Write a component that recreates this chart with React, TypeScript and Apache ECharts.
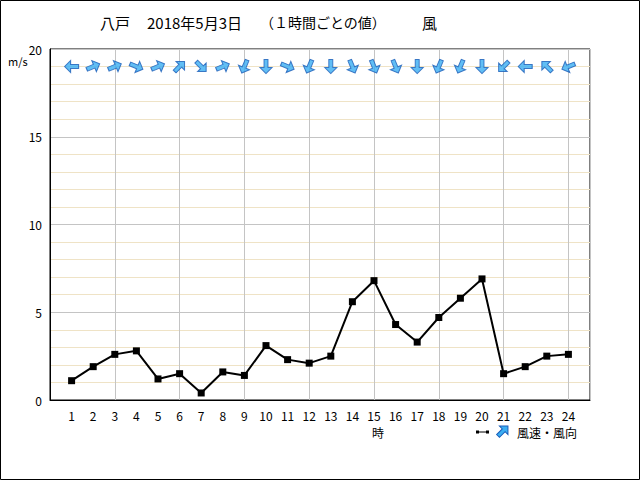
import React, { useEffect, useRef } from "react";
import * as echarts from "echarts";

const hours = [1, 2, 3, 4, 5, 6, 7, 8, 9, 10, 11, 12, 13, 14, 15, 16, 17, 18, 19, 20, 21, 22, 23, 24];
const windSpeed = [1.1, 1.9, 2.6, 2.8, 1.2, 1.5, 0.4, 1.6, 1.4, 3.1, 2.3, 2.1, 2.5, 5.6, 6.8, 4.3, 3.3, 4.7, 5.8, 6.9, 1.5, 1.9, 2.5, 2.6];
// wind direction (where the wind blows from), 16-point compass
const windFrom = [
  "東", "西南西", "西南西", "西北西", "西南西", "南西", "北西", "西南西",
  "北北東", "北", "西北西", "北北東", "北", "北北西", "北北西", "北北西",
  "北", "北北東", "北北東", "北", "北東", "東", "南東", "東北東",
];
const compass16 = ["北", "北北東", "北東", "東北東", "東", "東南東", "南東", "南南東", "南", "南南西", "南西", "西南西", "西", "西北西", "北西", "北北西"];
const yTicks = [0, 5, 10, 15, 20];
const titleParts = ["八戸", "2018年5月3日", "（１時間ごとの値）", "風"];

const FONT = "'Noto Sans CJK JP', 'DejaVu Sans', sans-serif";
const ARROW_FILL = "#3aaef2";
const ARROW_STROKE = "#1a5cb8";

export default function App() {
  const ref = useRef<HTMLDivElement>(null);
  useEffect(() => {
    document.body.style.margin = "0";
    if (!ref.current) return;
    const chart = echarts.init(ref.current, null, { renderer: "svg" });
    const arrowData = hours.map((h, i) => {
      const fromDeg = compass16.indexOf(windFrom[i]) * 22.5;
      const toDeg = (fromDeg + 180) % 360;
      return { value: [h, 19], symbolRotate: -toDeg };
    });
    chart.setOption({
      animation: false,
      backgroundColor: "#fff",
      textStyle: { fontFamily: FONT },
      grid: { left: 50, right: 50, top: 49, bottom: 80, show: true, borderColor: "#000", borderWidth: 1, backgroundColor: "transparent" },
      xAxis: [
        {
          type: "value", min: 0, max: 25, interval: 1, position: "bottom",
          axisLine: { show: true, lineStyle: { color: "#000" } },
          axisTick: { show: false },
          splitLine: { show: false },
          axisLabel: {
            color: "#000", fontSize: 12, margin: 9, fontFamily: FONT,
            formatter: (v: number) => (hours.includes(v) ? String(v) : ""),
          },
        },
        {
          type: "value", min: 0, max: 25, interval: 3, position: "bottom",
          axisLine: { show: false }, axisTick: { show: false }, axisLabel: { show: false },
          splitLine: { show: true, lineStyle: { color: "#c4c4c4", width: 1 } },
        },
      ],
      yAxis: {
        type: "value", min: 0, max: 20, interval: 5,
        axisLine: { show: true, lineStyle: { color: "#000" } },
        axisTick: { show: false },
        axisLabel: {
          color: "#000", fontSize: 12, margin: 8, fontFamily: FONT,
          formatter: (v: number) => (yTicks.includes(v) ? String(v) : ""),
        },
        splitLine: { show: true, lineStyle: { color: "#c4c4c4", width: 1 } },
        minorTick: { show: false, splitNumber: 5 },
        minorSplitLine: { show: true, lineStyle: { color: "#efe3c6", width: 1 } },
      },
      series: [
        {
          type: "line",
          xAxisIndex: 0,
          data: hours.map((h, i) => [h, windSpeed[i]]),
          symbol: "rect",
          symbolSize: 7,
          itemStyle: { color: "#000" },
          lineStyle: { color: "#000", width: 2 },
          z: 3,
        },
        {
          type: "scatter",
          xAxisIndex: 0,
          data: arrowData,
          symbol: "path://M6,0 L12,6 L8,6 L8,14 L4,14 L4,6 L0,6 Z",
          symbolSize: [12, 14],
          itemStyle: { color: ARROW_FILL, borderColor: ARROW_STROKE, borderWidth: 1 },
          z: 4,
        },
      ],
      graphic: [
        { type: "rect", shape: { x: 0.5, y: 0.5, width: 639, height: 479 }, style: { fill: "none", stroke: "#000", lineWidth: 1 }, silent: true },
        { type: "text", x: 100, y: 22, style: { text: titleParts[0], font: `15px ${FONT}`, fill: "#000", verticalAlign: "middle" } },
        { type: "text", x: 147, y: 22, style: { text: titleParts[1], font: `15px ${FONT}`, fill: "#000", verticalAlign: "middle" } },
        { type: "text", x: 260, y: 22, style: { text: titleParts[2], font: `14px ${FONT}`, fill: "#000", verticalAlign: "middle" } },
        { type: "text", x: 422, y: 22, style: { text: titleParts[3], font: `15px ${FONT}`, fill: "#000", verticalAlign: "middle" } },
        { type: "text", x: 8, y: 61, style: { text: "m/s", font: `11px ${FONT}`, fill: "#000", verticalAlign: "middle" } },
        { type: "text", x: 372, y: 432, style: { text: "時", font: `12px ${FONT}`, fill: "#000", verticalAlign: "middle" } },
        { type: "line", shape: { x1: 477, y1: 432, x2: 488, y2: 432 }, style: { stroke: "#000", lineWidth: 1 } },
        { type: "rect", shape: { x: 476, y: 430.5, width: 3, height: 3 }, style: { fill: "#000" } },
        { type: "rect", shape: { x: 486, y: 430.5, width: 3, height: 3 }, style: { fill: "#000" } },
        {
          type: "polygon", x: 503, y: 431, rotation: -Math.PI / 4,
          shape: { points: [[0, -7], [6, -1], [2, -1], [2, 7], [-2, 7], [-2, -1], [-6, -1]] },
          style: { fill: ARROW_FILL, stroke: ARROW_STROKE, lineWidth: 1 },
        },
        { type: "text", x: 517, y: 432, style: { text: "風速・風向", font: `12px ${FONT}`, fill: "#000", verticalAlign: "middle" } },
      ],
    });
    return () => chart.dispose();
  }, []);
  return <div ref={ref} style={{ width: 640, height: 480 }} />;
}
